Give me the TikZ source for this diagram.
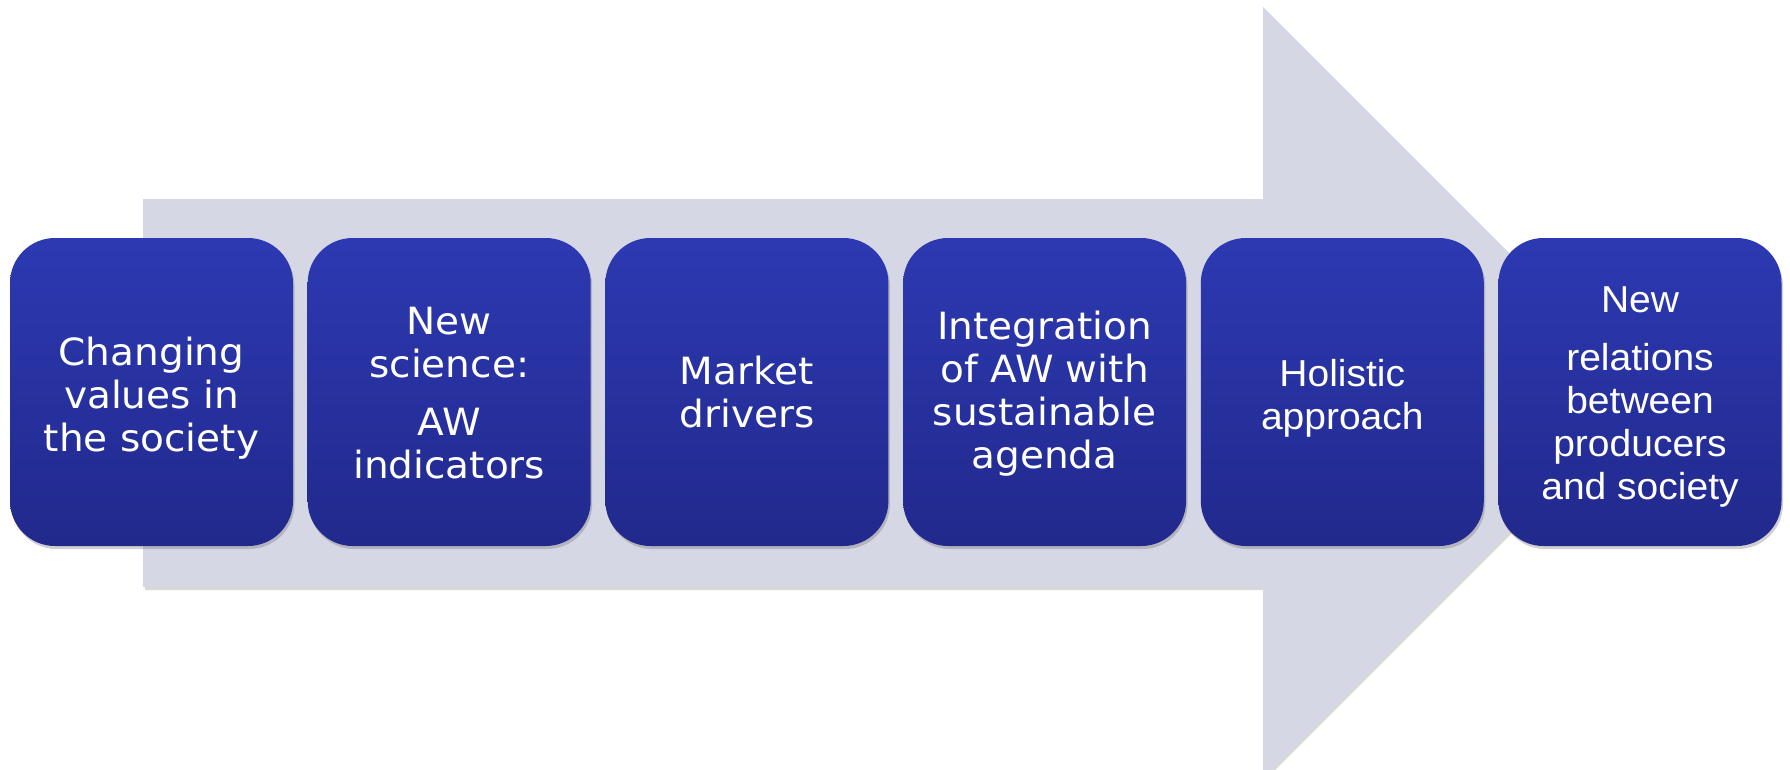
\documentclass[tikz,border=0pt]{standalone}
\usepackage{fontspec}
\usetikzlibrary{shadows}
\newfontfamily\vfont[FakeStretch=1.04]{DejaVu Sans}
\newfontfamily\afont[FakeStretch=1.04]{Liberation Sans}
\definecolor{arrowfill}{RGB}{213,215,229}
\definecolor{boxtop}{RGB}{45,57,178}
\definecolor{boxbot}{RGB}{33,41,140}
\tikzset{
  stagebox/.style={rounded corners=45pt, minimum width=283pt, minimum height=308pt,
    top color=boxtop, bottom color=boxbot, draw=none, inner sep=0pt,
    drop shadow={shadow xshift=1.5pt, shadow yshift=-3pt, opacity=0.3, fill=black!60}},
  stagetext/.style={text=white, align=center, inner sep=0pt},
  vtext/.style={stagetext, font=\vfont\fontsize{37.5}{43}\selectfont},
  atext/.style={stagetext, font=\afont\fontsize{37.5}{43}\selectfont},
  bigarrow/.style={fill=arrowfill, draw=none,
    drop shadow={shadow xshift=2pt, shadow yshift=-3pt, opacity=0.25, fill=black!60}}
}
\begin{document}
\begin{tikzpicture}[x=1pt,y=-1pt]
\useasboundingbox (0,0) rectangle (1790,769);
\clip (0,0) rectangle (1790,769);
\fill[white] (0,0) rectangle (1790,769);
\path[bigarrow] (143,199) -- (1263,199) -- (1263,7) -- (1648,392) -- (1263,777)
  -- (1263,587) -- (143,587) -- cycle;
\node[stagebox] (b1) at (151.5,392) {};
\node[stagebox] (b2) at (449.2,392) {};
\node[stagebox] (b3) at (746.9,392) {};
\node[stagebox] (b4) at (1044.6,392) {};
\node[stagebox] (b5) at (1342.3,392) {};
\node[stagebox] (b6) at (1640,392) {};
\node[vtext] (t1) at ([yshift=-6pt]b1.center) {Changing\\values in\\the society};
\node[vtext] (t2) at ([yshift=-1pt]b2.center) {New\\science:\\[15pt]AW\\indicators};
\node[vtext] (t3) at (b3.center) {Market\\drivers};
\node[vtext] (t4) at ([yshift=-2pt]b4.center) {Integration\\of AW with\\sustainable\\agenda};
\node[atext] (t5) at ([yshift=-6pt]b5.center) {Holistic\\approach};
\node[atext] (t6) at ([yshift=-5pt]b6.center) {New\\[15pt]relations\\between\\producers\\and society};
\end{tikzpicture}
\end{document}
